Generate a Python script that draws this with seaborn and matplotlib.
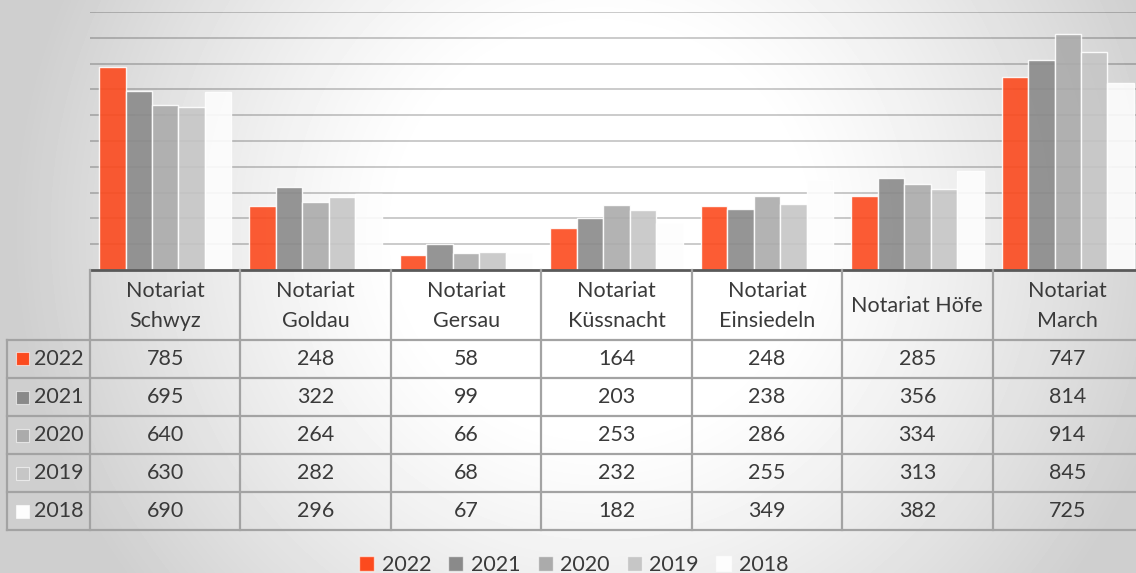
import matplotlib
matplotlib.use("Agg")
import matplotlib.pyplot as plt
import matplotlib.patches as mpatches
import seaborn as sns
import numpy as np
import pandas as pd

# chart data
categories = ["Notariat\nSchwyz", "Notariat\nGoldau", "Notariat\nGersau", "Notariat\nKüssnacht",
              "Notariat\nEinsiedeln", "Notariat Höfe", "Notariat\nMarch"]
years = ["2022", "2021", "2020", "2019", "2018"]
values_2022 = [785, 248, 58, 164, 248, 285, 747]
values_2021 = [695, 322, 99, 203, 238, 356, 814]
values_2020 = [640, 264, 66, 253, 286, 334, 914]
values_2019 = [630, 282, 68, 232, 255, 313, 845]
values_2018 = [690, 296, 67, 182, 349, 382, 725]
colors = ["#fc4a1e", "#8a8a8a", "#ababab", "#c6c6c6", "#fdfdfd"]

series = [values_2022, values_2021, values_2020, values_2019, values_2018]
df = pd.DataFrame({
    "Notariat": np.tile(categories, len(years)),
    "Jahr": np.repeat(years, len(categories)),
    "Wert": np.concatenate(series),
})

W, H = 1136, 573
plt.rcParams["font.family"] = ["Lato", "DejaVu Sans"]
TXT = "#3a3a3a"
FS = 15.5

fig = plt.figure(figsize=(W / 100, H / 100), dpi=100)

# gradient background (wide white centre, grey edges)
bg = fig.add_axes([0, 0, 1, 1])
yy, xx = np.mgrid[0:H, 0:W]
r = np.sqrt(((xx - 600) / 560.0) ** 2 + ((yy - 230) / 560.0) ** 2)
t = np.clip((r - 0.35) / 0.7, 0, 1)
shade = 1.0 - 0.19 * t ** 1.2
bg.imshow(shade, cmap="gray", vmin=0, vmax=1, aspect="auto", extent=[0, W, H, 0],
          interpolation="bilinear")
bg.set_axis_off()

# bar chart
x0, x1 = 90, 1143
ax = fig.add_axes([x0 / W, (H - 270) / H, (x1 - x0) / W, (270 - 12) / H])
ax.set_facecolor("none")
sns.barplot(data=df, x="Notariat", y="Wert", hue="Jahr", hue_order=years, palette=colors,
            width=0.88, saturation=1, alpha=0.9, edgecolor=(1, 1, 1, 0.6), linewidth=1,
            legend=False, ax=ax)
ax.set_xlim(-0.5, len(categories) - 0.5)
ax.set_ylim(0, 1000)
ax.set_axisbelow(True)
ax.grid(axis="y", color="black", alpha=0.22, linewidth=1.3)
ax.set_xticks([])
ax.set_yticks(np.arange(100, 1001, 100))
ax.tick_params(left=False, labelleft=False)
ax.set_xlabel("")
ax.set_ylabel("")
for s in ["top", "right", "left"]:
    ax.spines[s].set_visible(False)
ax.spines["bottom"].set_color("#595959")
ax.spines["bottom"].set_linewidth(2)

# data table below
tab = fig.add_axes([x0 / W, (H - 530) / H, (x1 - x0) / W, (530 - 270) / H])
tab.set_facecolor("none")
tab.set_xlim(-0.5, len(categories) - 0.5)
tab.set_ylim(260, 0)
tab.set_axis_off()
lc, lw = "#a3a3a3", 1.6
colw = (x1 - x0) / len(categories)
fx = lambda px: -0.5 - (90 - px) / colw
head, rh = 70, 38
for k in range(len(categories) + 1):
    tab.plot([k - 0.5, k - 0.5], [0, 260], color=lc, lw=lw, clip_on=False)
tab.plot([fx(7), fx(7)], [head, 260], color=lc, lw=lw, clip_on=False)
for i in range(len(years) + 1):
    tab.plot([fx(7), len(categories) - 0.5], [head + i * rh] * 2, color=lc, lw=lw, clip_on=False)
for j, cat in enumerate(categories):
    tab.text(j, head / 2 + 1, cat, ha="center", va="center", fontsize=FS, color=TXT,
             linespacing=1.6)
for i, (yr, vals, c) in enumerate(zip(years, series, colors)):
    yc = head + i * rh + rh / 2
    for j, v in enumerate(vals):
        tab.text(j, yc, str(v), ha="center", va="center", fontsize=FS, color=TXT)
    tab.add_patch(mpatches.Rectangle((fx(16), yc - 6.5), fx(29) - fx(16), 13, facecolor=c,
                                     edgecolor=(1, 1, 1, 0.6), lw=0.8, clip_on=False))
    tab.text(fx(34), yc, yr, ha="left", va="center", fontsize=FS, color=TXT)

# legend
handles = [mpatches.Patch(facecolor=c, edgecolor=(1, 1, 1, 0.6), label=y) for y, c in zip(years, colors)]
fig.legend(handles=handles, loc="center", bbox_to_anchor=(0.505, 1 - 565 / H), ncol=5,
           frameon=False, fontsize=FS, handlelength=0.7, handleheight=0.7,
           handletextpad=0.35, columnspacing=0.8, labelcolor=TXT)

fig.savefig("out.png", dpi=100)
